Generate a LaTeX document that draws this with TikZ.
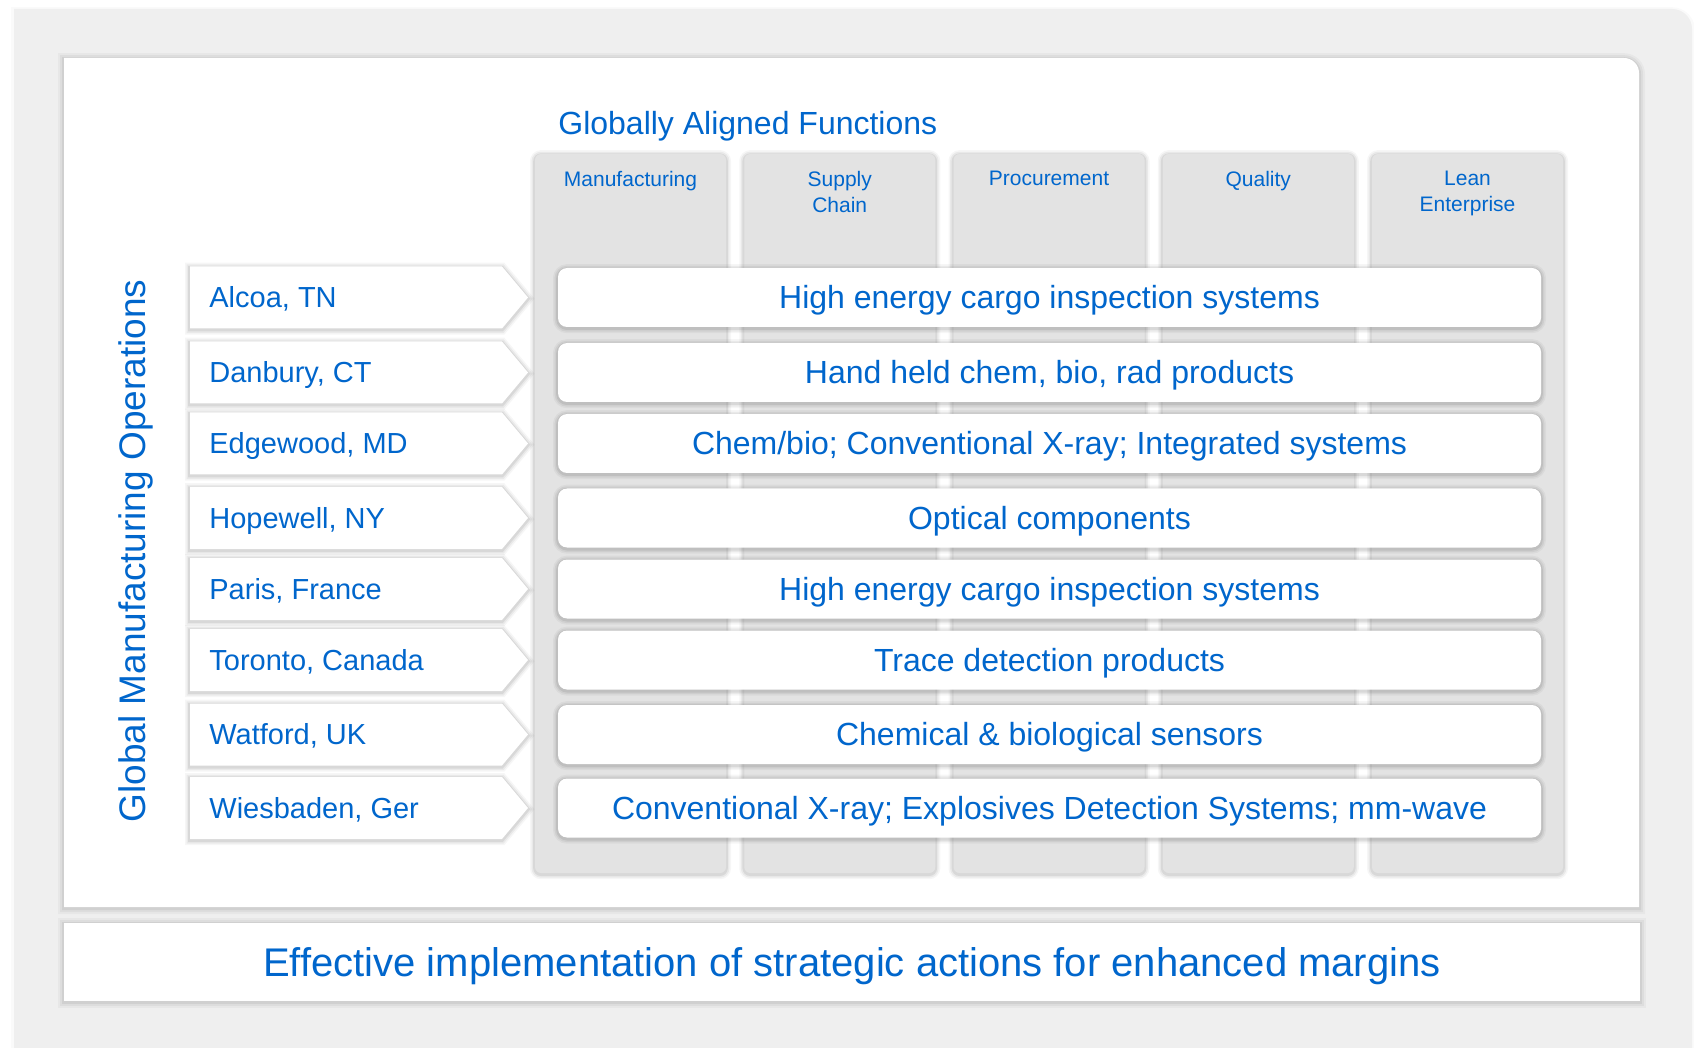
\documentclass[tikz,border=0pt]{standalone}
\usepackage{fontspec}
\setmainfont{Liberation Sans}

\definecolor{txtblue}{RGB}{0,102,204}
\definecolor{panelgray}{RGB}{239,239,239}
\definecolor{colgray}{RGB}{227,227,227}

% one manufacturing site: tag on the left, product bar on the right
\newcommand{\siterow}[4]{%
  \path[tagshape] (190,#1-31) -- (502,#1-31) -- (528,#1) -- (502,#1+31) -- (190,#1+31) -- cycle;
  \node[loctext] (site-#4) at (209,#1) {#2};
  \node[prodbar] (prod-#4) at (1049.5,#1) {#3};
}

\begin{document}
\begin{tikzpicture}[x=0.5pt,y=-0.5pt,
  % soft shadow built from stacked translucent strokes under the fill
  shadowring/.style 2 args={preaction={draw=black, draw opacity=#2, line width=#1, transform canvas={yshift=-0.6pt}}},
  softshadow/.style={shadowring={5pt}{0.035}, shadowring={3.4pt}{0.05}, shadowring={1.8pt}{0.07}},
  panelshadow/.style={shadowring={6pt}{0.03}, shadowring={4pt}{0.045}, shadowring={2pt}{0.06}},
  colbox/.style={fill=colgray, rounded corners=3pt, minimum width=95.5pt, minimum height=359.5pt, inner sep=0pt, softshadow},
  colhead/.style={anchor=north, inner sep=0pt, align=center, text=txtblue, font=\fontsize{10.5}{13}\selectfont},
  tagshape/.style={fill=white, softshadow},
  loctext/.style={anchor=west, inner sep=0pt, text=txtblue, font=\fontsize{14.5}{17}\selectfont, text height=10.4pt, text depth=0pt},
  prodbar/.style={fill=white, rounded corners=4.5pt, minimum width=491.5pt, minimum height=29.5pt, inner sep=0pt, text=txtblue, font=\fontsize{16}{19}\selectfont, text height=11.46pt, text depth=0pt, softshadow},
  titletext/.style={anchor=base west, inner sep=0pt, text=txtblue, font=\fontsize{16}{19}\selectfont},
  sidetext/.style={rotate=90, inner sep=0pt, text=txtblue, font=\fontsize{18.5}{22}\selectfont, text height=13.2pt, text depth=0pt},
  footbar/.style={fill=white, minimum width=788pt, minimum height=39pt, inner sep=0pt, text=txtblue, font=\fontsize{20}{24}\selectfont, text height=14.3pt, text depth=0pt, panelshadow}
]
\useasboundingbox (0,0) rectangle (1694,1048);
\fill[white] (0,0) rectangle (1694,1048);

% outer grey frame
\path[fill=panelgray, shadowring={3pt}{0.02}]
  (14,1070) -- (14,9) -- (1672,9) arc(-90:0:20) -- (1692,1070) -- cycle;

% white content panel
\path[fill=white, panelshadow]
  (64,907) -- (64,58) -- (1624,58) arc(-90:0:15) -- (1639,907) -- cycle;

% bottom statement bar
\node[footbar] (footer) at (852,962) {Effective implementation of strategic actions for enhanced margins};

% headings
\node[titletext] (title) at (558,135) {Globally Aligned Functions};
\node[sidetext] (side) at (132.5,551) {Global Manufacturing Operations};

% function columns
\node[colbox] (col-1) at (630.5,513.5) {};
\node[colbox] (col-2) at (839.75,513.5) {};
\node[colbox] (col-3) at (1049,513.5) {};
\node[colbox] (col-4) at (1258.25,513.5) {};
\node[colbox] (col-5) at (1467.5,513.5) {};

\node[colhead] (head-1) at ([yshift=-8.5pt]col-1.north) {Manufacturing};
\node[colhead] (head-2) at ([yshift=-8.5pt]col-2.north) {Supply\\Chain};
\node[colhead] (head-3) at ([yshift=-8.5pt]col-3.north) {Procurement};
\node[colhead] (head-4) at ([yshift=-8.5pt]col-4.north) {Quality};
\node[colhead] (head-5) at ([yshift=-8.5pt]col-5.north) {Lean\\Enterprise};

% manufacturing sites and their products
\siterow{297.5}{Alcoa, TN}{High energy cargo inspection systems}{1}
\siterow{372.5}{Danbury, CT}{Hand held chem, bio, rad products}{2}
\siterow{443.5}{Edgewood, MD}{Chem/bio; Conventional X-ray; Integrated systems}{3}
\siterow{518}{Hopewell, NY}{Optical components}{4}
\siterow{589}{Paris, France}{High energy cargo inspection systems}{5}
\siterow{660}{Toronto, Canada}{Trace detection products}{6}
\siterow{734.5}{Watford, UK}{Chemical \& biological sensors}{7}
\siterow{808}{Wiesbaden, Ger}{Conventional X-ray; Explosives Detection Systems; mm-wave}{8}
\end{tikzpicture}
\end{document}
